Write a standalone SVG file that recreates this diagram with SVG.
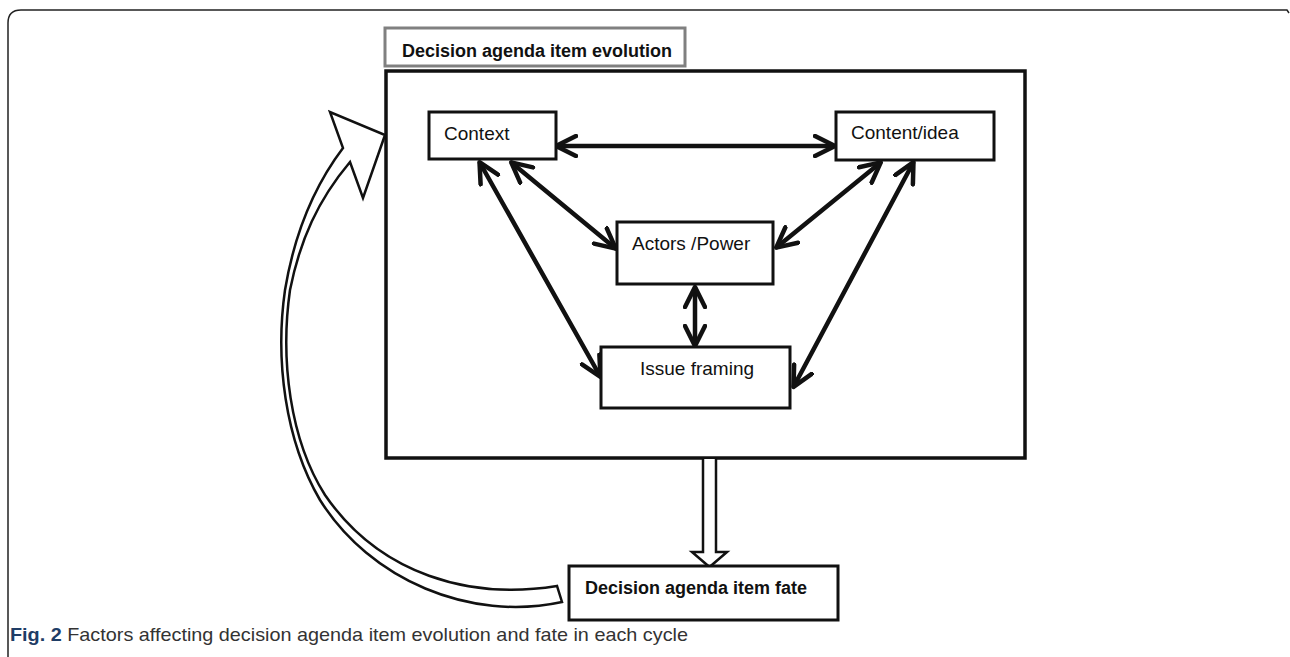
<svg xmlns="http://www.w3.org/2000/svg" width="1290" height="657" viewBox="0 0 1290 657">
  <style>
    .box { fill: #fff; stroke: #111; stroke-width: 3; }
    .lbl { font-family: "Liberation Sans", Arial, sans-serif; font-size: 19px; fill: #111; }
    .bold { font-family: "Liberation Sans", Arial, sans-serif; font-size: 18px; font-weight: bold; fill: #111; }
    .conn { stroke: #111; stroke-width: 4.5; fill: none; stroke-linecap: round; marker-start: url(#v); marker-end: url(#v); }
    .hollow { fill: #fff; stroke: #111; stroke-width: 2.5; stroke-linejoin: miter; }
  </style>
  <defs>
    <marker id="v" viewBox="-2 -2 26 24" refX="19" refY="10" markerWidth="26" markerHeight="24" markerUnits="userSpaceOnUse" orient="auto-start-reverse">
      <path d="M0,0 L20,10 L0,20" fill="none" stroke="#111" stroke-width="4.5" stroke-linecap="round" stroke-linejoin="round"/>
    </marker>
  </defs>
  <rect width="1290" height="657" fill="#fff"/>
  <path d="M8,657 V23 Q8,10 21,10 H1287 L1289,13" fill="none" stroke="#222" stroke-width="1.5"/>

  <g id="title">
    <rect x="385" y="28" width="300" height="38" fill="#fff" stroke="#808080" stroke-width="3"/>
    <text class="bold" x="402" y="57">Decision agenda item evolution</text>
  </g>

  <g id="evolution-box">
    <rect x="386" y="71" width="639" height="387" fill="none" stroke="#111" stroke-width="3.5"/>
  </g>

  <g id="connectors">
    <line class="conn" x1="557" y1="146" x2="834" y2="146"/>
    <line class="conn" x1="512" y1="163" x2="615" y2="248"/>
    <line class="conn" x1="480" y1="163" x2="600" y2="376"/>
    <line class="conn" x1="880" y1="163" x2="777" y2="247"/>
    <line class="conn" x1="913" y1="163" x2="794" y2="386"/>
    <line class="conn" x1="695" y1="288" x2="695" y2="345"/>
    <path class="hollow" d="M703,459 V552 H692 L709.5,567 L727,552 H716 V459"/>
    <path class="hollow" d="M385,135 L363,198 L350,162 C318,200 300,240 290,290 C280,360 290,440 325,495 C380,575 470,600 557,586 L562,602 C470,622 370,580 320,500 C285,440 275,360 285,290 C295,230 315,185 343,148 L330,112 Z"/>
  </g>

  <g id="context">
    <rect class="box" x="429" y="112" width="127" height="47"/>
    <text class="lbl" x="444" y="140">Context</text>
  </g>
  <g id="content">
    <rect class="box" x="836" y="112" width="158" height="48"/>
    <text class="lbl" x="851" y="139">Content/idea</text>
  </g>
  <g id="actors">
    <rect class="box" x="617" y="222" width="156" height="62"/>
    <text class="lbl" x="632" y="250">Actors /Power</text>
  </g>
  <g id="issue">
    <rect class="box" x="601" y="347" width="189" height="61"/>
    <text class="lbl" x="640" y="375">Issue framing</text>
  </g>
  <g id="fate">
    <rect class="box" x="569" y="566" width="269" height="54"/>
    <text class="bold" x="585" y="594">Decision agenda item fate</text>
  </g>

  <g id="caption">
    <text x="10" y="641" font-family="'Liberation Sans', Arial, sans-serif" font-size="19" fill="#333" textLength="678" lengthAdjust="spacingAndGlyphs"><tspan font-weight="bold" fill="#1f3d66">Fig. 2</tspan> Factors affecting decision agenda item evolution and fate in each cycle</text>
  </g>
</svg>
